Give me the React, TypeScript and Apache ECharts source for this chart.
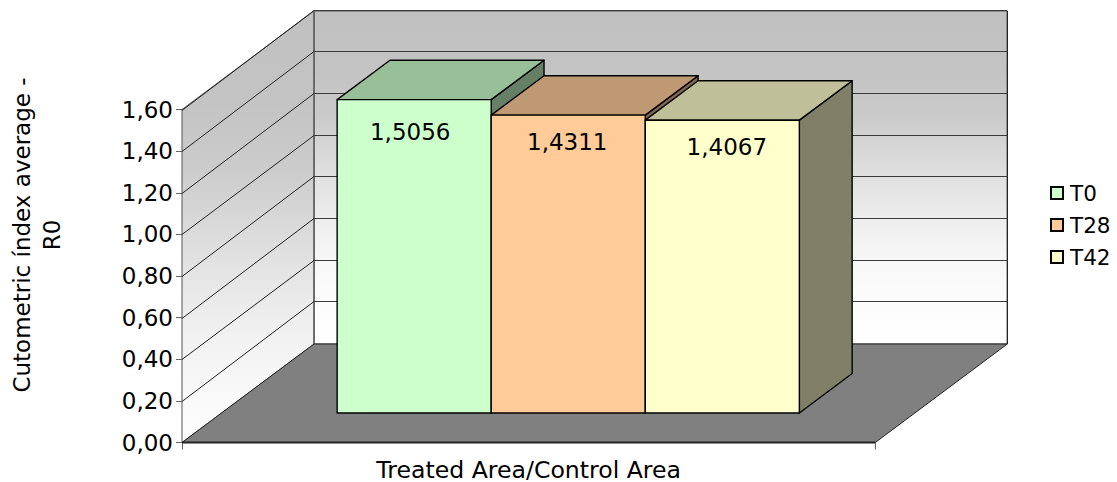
import React, { useEffect, useRef } from "react";
import * as echarts from "echarts";

const categories = ["Treated Area/Control Area"];
const seriesNames = ["T0", "T28", "T42"];
const t0Values = [1.5056];
const t28Values = [1.4311];
const t42Values = [1.4067];
const yTicks = [0.2, 0.4, 0.6, 0.8, 1.0, 1.2, 1.4, 1.6];
const yTitle = "Cutometric índex average -\nR0";
const frontColors = ["#CCFFCC", "#FFCC99", "#FFFFCC"];
const topColors = ["#99BF99", "#BF9973", "#BFBF99"];
const sideColors = ["#668066", "#80664D", "#808066"];
const labelShiftX = [-4, -1, 4.5];
const labelShiftY = [32, 27, 27];

const FONT = "DejaVu Sans";
const DX = 132;
const DY = 98.5;
const comma = (v: number, d: number) => v.toFixed(d).replace(".", ",");

const backGradient = () =>
  new echarts.graphic.LinearGradient(0, 0, 0, 1, [
    { offset: 0, color: "#C0C0C0" },
    { offset: 0.18, color: "#C3C3C3" },
    { offset: 0.31, color: "#CACACA" },
    { offset: 0.42, color: "#D8D8D8" },
    { offset: 0.57, color: "#E8E8E8" },
    { offset: 0.69, color: "#F3F3F3" },
    { offset: 0.81, color: "#FAFAFA" },
    { offset: 1, color: "#FFFFFF" },
  ]);

const sideGradient = () =>
  new echarts.graphic.LinearGradient(0, 0, 0, 1, [
    { offset: 0, color: "#C0C0C0" },
    { offset: 0.22, color: "#C4C4C4" },
    { offset: 0.37, color: "#CCCCCC" },
    { offset: 0.6, color: "#E4E4E4" },
    { offset: 0.76, color: "#F2F2F2" },
    { offset: 0.91, color: "#FAFAFA" },
    { offset: 1, color: "#FFFFFF" },
  ]);

const renderWalls = (_p: any, api: any) => {
  const band = api.size([1, 0])[0];
  const c0 = api.coord([0, 0]);
  const c1 = api.coord([0, 1.6]);
  const l = c0[0] - band / 2;
  const r = c0[0] + band / 2;
  const b = c0[1];
  const t = c1[1];
  const thin = { stroke: "#555", lineWidth: 1 };
  return {
    type: "group",
    children: [
      {
        type: "polygon",
        shape: { points: [[l + DX, t - DY], [r + DX, t - DY], [r + DX, b - DY], [l + DX, b - DY]] },
        style: { fill: backGradient(), ...thin },
      },
      {
        type: "polygon",
        shape: { points: [[l, t], [l + DX, t - DY], [l + DX, b - DY], [l, b]] },
        style: { fill: sideGradient(), ...thin },
      },
      {
        type: "line",
        shape: { x1: l + DX, y1: t - DY, x2: l + DX, y2: b - DY },
        style: { stroke: "#666", lineWidth: 1.6 },
      },
      {
        type: "line",
        shape: { x1: r + DX, y1: t - DY, x2: r + DX, y2: b - DY },
        style: { stroke: "#111", lineWidth: 1 },
      },
    ],
  };
};

const renderFloor = (_p: any, api: any) => {
  const band = api.size([1, 0])[0];
  const c0 = api.coord([0, 0]);
  const l = c0[0] - band / 2;
  const r = c0[0] + band / 2;
  const b = c0[1];
  return {
    type: "group",
    children: [
      {
        type: "polygon",
        shape: { points: [[l, b], [r, b], [r + DX, b - DY], [l + DX, b - DY]] },
        style: { fill: "#808080", stroke: "#222", lineWidth: 1 },
      },
      {
        type: "line",
        shape: { x1: l, y1: b, x2: r, y2: b },
        style: { stroke: "#222", lineWidth: 2 },
      },
    ],
  };
};

const renderGrid = (_p: any, api: any) => {
  const v = api.value(1);
  const band = api.size([1, 0])[0];
  const c = api.coord([0, v]);
  const l = c[0] - band / 2;
  const r = c[0] + band / 2;
  const y = Math.round(c[1]) + 0.5;
  const yBack = Math.floor(c[1] - DY - 0.7) + 0.5;
  return {
    type: "group",
    children: [
      { type: "line", shape: { x1: l, y1: y, x2: l + DX, y2: yBack }, style: { stroke: "#222", lineWidth: 1 } },
      { type: "line", shape: { x1: l + DX, y1: yBack, x2: r + DX, y2: yBack }, style: { stroke: "#3a3a3a", lineWidth: 1 } },
    ],
  };
};

const makeBar = (i: number) => (_p: any, api: any) => {
  const v = api.value(1);
  const band = api.size([1, 0])[0];
  const c0 = api.coord([0, 0]);
  const cv = api.coord([0, v]);
  const bw = (band * 2) / 9;
  const x0 = c0[0] - band / 2 + band / 6 + i * bw + 0.3 * DX;
  const x1 = x0 + bw;
  const base = c0[1] - 0.3 * DY;
  const top = cv[1] - 0.3 * DY;
  const dx = 0.4 * DX;
  const dy = 0.4 * DY;
  const stroke = { stroke: "#000", lineWidth: 1.4, lineJoin: "round" };
  return {
    type: "group",
    children: [
      {
        type: "polygon",
        shape: { points: [[x1, top], [x1 + dx, top - dy], [x1 + dx, base - dy], [x1, base]] },
        style: { fill: sideColors[i], ...stroke },
      },
      {
        type: "polygon",
        shape: { points: [[x0, top], [x0 + dx, top - dy], [x1 + dx, top - dy], [x1, top]] },
        style: { fill: topColors[i], ...stroke },
      },
      {
        type: "polygon",
        shape: { points: [[x0, top], [x1, top], [x1, base], [x0, base]] },
        style: { fill: frontColors[i], ...stroke },
      },
      {
        type: "text",
        style: {
          x: (x0 + x1) / 2 + labelShiftX[i],
          y: top + labelShiftY[i],
          text: comma(v, 4),
          fill: "#000",
          fontFamily: FONT,
          fontSize: 23,
          align: "center",
          verticalAlign: "middle",
        },
      },
    ],
  };
};

export default function App() {
  const ref = useRef<HTMLDivElement>(null);
  useEffect(() => {
    document.body.style.margin = "0";
    const chart = echarts.init(ref.current!, undefined, { renderer: "svg" });
    const values = [t0Values, t28Values, t42Values];
    chart.setOption({
      animation: false,
      backgroundColor: "#fff",
      textStyle: { fontFamily: FONT },
      grid: { left: 182, right: 241.7, top: 109.5, bottom: 39.5, containLabel: false, outerBoundsMode: "none" },
      legend: {
        data: seriesNames,
        orient: "vertical",
        left: 1050,
        top: 182,
        padding: 0,
        icon: "rect",
        itemWidth: 12,
        itemHeight: 12,
        itemGap: 10,
        selectedMode: false,
        textStyle: { fontFamily: FONT, fontSize: 21.5, color: "#000", padding: [0, 0, 0, 2] },
      },
      graphic: [
        {
          type: "text",
          x: 7,
          y: 235,
          rotation: Math.PI / 2,
          style: {
            text: yTitle,
            fontFamily: FONT,
            fontSize: 23,
            lineHeight: 30,
            fill: "#000",
            align: "center",
            verticalAlign: "top",
          },
        },
      ],
      xAxis: {
        type: "category",
        data: categories,
        name: categories[0],
        nameLocation: "middle",
        nameGap: 17,
        nameTextStyle: { fontFamily: FONT, fontSize: 23.6, lineHeight: 20, color: "#000" },
        axisLabel: { show: false },
        axisLine: { show: false },
        axisTick: { show: true, length: 7, lineStyle: { color: "#666" } },
      },
      yAxis: {
        type: "value",
        min: 0,
        max: 1.6,
        interval: 0.2,
        axisLabel: {
          formatter: (v: number) => comma(v, 2),
          fontFamily: FONT,
          fontSize: 23,
          color: "#000",
          margin: 9,
        },
        axisLine: { show: true, lineStyle: { color: "#666" } },
        axisTick: { show: true, length: 6, lineStyle: { color: "#666" } },
        splitLine: { show: false },
      },
      series: [
        { type: "custom", name: "walls", renderItem: renderWalls, data: [[0, 1.6]], z: 1, silent: true },
        {
          type: "custom",
          name: "gridlines",
          renderItem: renderGrid,
          data: yTicks.map((v) => [0, v]),
          z: 2,
          silent: true,
        },
        { type: "custom", name: "floor", renderItem: renderFloor, data: [[0, 0]], z: 3, silent: true },
        ...seriesNames.map((name, i) => ({
          type: "custom",
          name,
          renderItem: makeBar(i),
          data: values[i].map((v) => [0, v]),
          itemStyle: { color: frontColors[i], borderColor: "#000", borderWidth: 1 },
          z: 4 + i,
        })),
      ],
    });
    return () => chart.dispose();
  }, []);
  return <div ref={ref} style={{ width: 1117, height: 482 }} />;
}
